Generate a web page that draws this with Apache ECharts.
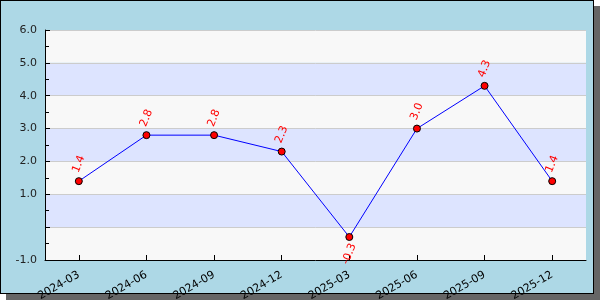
<!DOCTYPE html>
<html>
<head>
<meta charset="utf-8">
<script src="https://cdn.jsdelivr.net/npm/echarts@6/dist/echarts.min.js"></script>
<style>
html,body{margin:0;padding:0;background:#fff;}
#frame{position:absolute;left:0;top:0;width:592px;height:292px;background:#add8e6;border:1px solid #000;box-shadow:6px 6px 0 #666;}
#chart{position:absolute;left:0;top:0;width:600px;height:300px;}
</style>
</head>
<body>
<div id="frame"></div>
<div id="chart"></div>
<script>
var categories = ['2024-03','2024-06','2024-09','2024-12','2025-03','2025-06','2025-09','2025-12'];
var values = [1.4, 2.8, 2.8, 2.3, -0.3, 3.0, 4.3, 1.4];
var yTicks = [-1, 0, 1, 2, 3, 4, 5, 6];
var hiddenYLabels = [0];

var chart = echarts.init(document.getElementById('chart'), null, {renderer:'canvas'});
chart.setOption({
  backgroundColor: 'transparent',
  animation: false,
  grid: {left: 45, right: 14, top: 30, bottom: 40, containLabel: false, outerBoundsMode: 'none'},
  xAxis: {
    type: 'category',
    data: categories,
    boundaryGap: true,
    axisLine: {show: true, onZero: false, lineStyle: {color: '#000', width: 1}},
    axisTick: {show: true, inside: true, alignWithLabel: true, length: 5, lineStyle: {color: '#000'}},
    axisLabel: {rotate: 30, color: '#000', fontFamily: 'DejaVu Sans', fontSize: 11, margin: 14, interval: 0},
    splitLine: {show: false}
  },
  yAxis: {
    type: 'value',
    min: yTicks[0],
    max: yTicks[yTicks.length - 1],
    interval: 1,
    axisLine: {show: true, lineStyle: {color: '#000', width: 1}},
    axisTick: {show: true, inside: true, length: 5, lineStyle: {color: '#000'}},
    minorTick: {show: true, splitNumber: 2, length: 4, lineStyle: {color: '#000'}},
    axisLabel: {
      color: '#222', fontFamily: 'DejaVu Sans', fontSize: 11, margin: 8,
      formatter: function (v) { return hiddenYLabels.indexOf(v) >= 0 ? '' : v.toFixed(1); }
    },
    splitLine: {show: true, lineStyle: {color: '#cccccc', width: 1}},
    splitArea: {show: true, areaStyle: {color: ['#f8f8f8', '#dde4ff']}}
  },
  series: [{
    type: 'line',
    data: values.map(function (v) {
      return {
        value: v,
        label: {position: v < 0 ? 'bottom' : 'top'}
      };
    }),
    lineStyle: {color: '#0000ff', width: 1},
    symbol: 'circle',
    symbolSize: 7,
    itemStyle: {color: '#ff0000', borderColor: '#000', borderWidth: 1},
    label: {
      show: true,
      rotate: 68,
      distance: 13,
      align: 'center',
      verticalAlign: 'middle',
      color: '#ff0000',
      fontFamily: 'DejaVu Sans',
      fontSize: 11,
      formatter: function (p) { return p.value.toFixed(1); }
    }
  }]
});
</script>
</body>
</html>
